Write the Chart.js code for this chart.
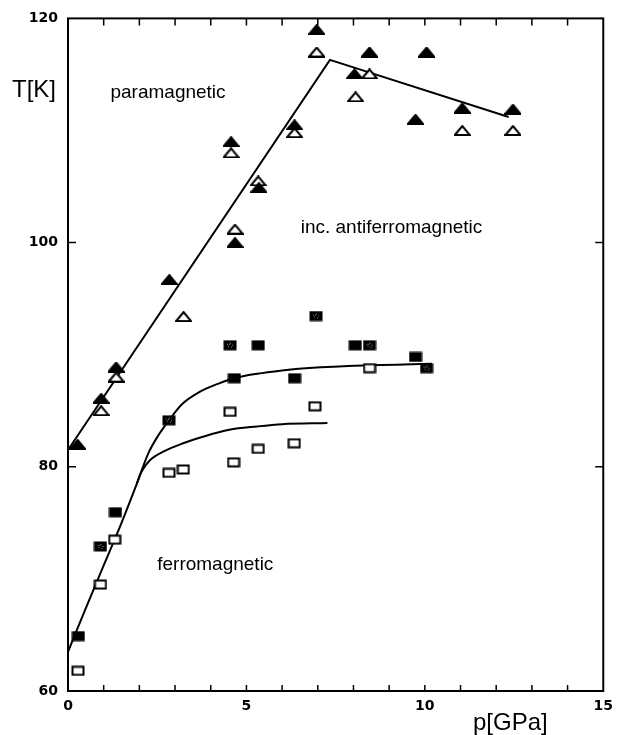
<!DOCTYPE html>
<html>
<head>
<meta charset="utf-8">
<script src="https://cdn.jsdelivr.net/npm/chart.js@4"></script>
<style>
  html, body { margin: 0; padding: 0; background: #fff; }
  #chart { display: block; }
</style>
</head>
<body>
<canvas id="chart" width="620" height="735"></canvas>
<script>
// filled triangles
const triFilledP = [0.27, 0.93, 1.35, 2.84, 4.57, 4.68, 5.35, 6.35, 6.97, 8.03, 8.45, 9.74, 10.05, 11.05, 12.47];
const triFilledT = [82.0, 86.1, 88.9, 96.7, 109.0, 100.0, 104.9, 110.5, 119.0, 115.05, 117.0, 111.0, 117.0, 112.0, 111.9];

// open triangles
const triOpenP = [0.93, 1.35, 3.24, 4.57, 4.68, 5.33, 6.35, 6.97, 8.06, 8.45, 11.05, 12.47];
const triOpenT = [85.0, 88.0, 93.4, 108.0, 101.2, 105.5, 109.8, 117.0, 113.0, 115.05, 110.0, 110.0];

// filled squares
const sqFilledP = [0.29, 1.33, 4.66, 5.33, 6.35, 8.05, 9.74];
const sqFilledT = [64.9, 75.95, 87.9, 90.84, 87.9, 90.84, 89.8];

// grey (speckled) squares
const sqGreyP = [0.91, 2.83, 4.54, 6.95, 8.45, 10.05];
const sqGreyT = [72.9, 84.15, 90.84, 93.45, 90.84, 88.8];

// open squares
const sqOpenP = [0.28, 0.91, 1.31, 2.83, 3.23, 4.54, 4.64, 5.33, 6.34, 6.92, 8.45];
const sqOpenT = [61.8, 69.5, 73.5, 79.46, 79.76, 84.9, 80.4, 81.6, 82.1, 85.4, 88.8];

// phase boundaries
const paraLineP = [0, 7.34, 12.35];
const paraLineT = [81.5, 116.3, 111.2];

const ferroUpperP = [0, 0.5, 1.0, 1.5, 1.93, 2.25, 2.55, 2.83, 3.2, 3.7, 4.2, 4.66, 5.3, 6.0, 6.46, 7.85, 8.45, 9.2, 10.2];
const ferroUpperT = [63.5, 67.4, 71.2, 75.0, 78.5, 81.2, 82.9, 84.15, 85.6, 86.7, 87.4, 87.9, 88.3, 88.6, 88.75, 89.0, 89.05, 89.1, 89.2];

const ferroLowerP = [1.93, 2.05, 2.3, 2.7, 3.23, 3.8, 4.52, 5.3, 6.0, 7.27];
const ferroLowerT = [78.5, 79.5, 80.6, 81.4, 82.1, 82.7, 83.3, 83.6, 83.8, 83.9];

// region labels
const regionText = ['paramagnetic', 'inc. antiferromagnetic', 'ferromagnetic'];
const regionP = [1.19, 6.52, 2.50];
const regionT = [112.94, 100.82, 70.78];

const xTicks = [0, 5, 10, 15];
const yTicks = [60, 80, 100, 120];

function points(px, py) {
    return px.map((p, i) => ({ x: p, y: py[i] }));
}

// marker images
function makeMarker(kind) {
    const c = document.createElement('canvas');
    const tri = kind.startsWith('tri');
    c.width = tri ? 17 : 14;
    c.height = 11;
    const g = c.getContext('2d');
    g.lineWidth = 2;
    g.strokeStyle = '#000';
    if (tri) {
        g.beginPath();
        g.moveTo(1, 10);
        g.lineTo(8.5, 1);
        g.lineTo(16, 10);
        g.closePath();
        g.fillStyle = kind === 'triFilled' ? '#000' : '#fff';
        g.fill();
        g.stroke();
    } else if (kind === 'sqOpen') {
        g.fillStyle = '#fff';
        g.fillRect(1, 1, 12, 9);
        g.strokeRect(1.5, 1.5, 11, 8);
    } else {
        g.fillStyle = '#000';
        g.fillRect(0.5, 0.5, 13, 10);
        if (kind === 'sqGrey') {
            g.fillStyle = '#8a8a8a';
            [[4, 4], [7, 3], [9, 5], [5, 6], [8, 7], [6, 4]].forEach(d => g.fillRect(d[0], d[1], 1, 1));
        }
    }
    return c;
}

function markerSet(label, px, py, kind) {
    return {
        label: label,
        data: points(px, py),
        pointStyle: makeMarker(kind),
        pointRadius: 7,
        showLine: false,
        order: 1
    };
}

function lineSet(label, px, py, smooth) {
    return {
        label: label,
        data: points(px, py),
        showLine: true,
        borderColor: '#000',
        borderWidth: 2,
        pointRadius: 0,
        cubicInterpolationMode: smooth ? 'monotone' : 'default',
        tension: 0,
        order: 2
    };
}

// frame, inward ticks and text
const framePlugin = {
    id: 'frame',
    afterDraw(chart) {
        const ctx = chart.ctx;
        const a = chart.chartArea;
        const xs = chart.scales.x;
        const ys = chart.scales.y;
        ctx.save();
        ctx.strokeStyle = '#000';
        ctx.lineWidth = 2;
        ctx.strokeRect(a.left, a.top, a.right - a.left, a.bottom - a.top);

        ctx.lineWidth = 1.5;
        ctx.beginPath();
        for (let v = xs.min + 1; v < xs.max; v++) {
            const px = xs.getPixelForValue(v);
            ctx.moveTo(px, a.bottom);
            ctx.lineTo(px, a.bottom - 6);
            ctx.moveTo(px, a.top);
            ctx.lineTo(px, a.top + 7);
        }
        yTicks.slice(1, -1).forEach(v => {
            const py = ys.getPixelForValue(v);
            ctx.moveTo(a.left, py);
            ctx.lineTo(a.left + 8, py);
            ctx.moveTo(a.right, py);
            ctx.lineTo(a.right - 8, py);
        });
        ctx.stroke();

        ctx.fillStyle = '#000';
        ctx.textAlign = 'left';
        ctx.textBaseline = 'alphabetic';
        ctx.font = '19px "Liberation Sans", Arial, sans-serif';
        regionText.forEach((t, i) => {
            ctx.fillText(t, xs.getPixelForValue(regionP[i]), ys.getPixelForValue(regionT[i]));
        });

        ctx.font = '24px "Liberation Sans", Arial, sans-serif';
        ctx.fillText('T[K]', a.left - 56, a.top + 79);
        ctx.fillText('p[GPa]', a.left + 405, a.bottom + 39);
        ctx.restore();
    }
};

const tickFont = { family: '"DejaVu Sans", sans-serif', size: 14, weight: 'bold' };

new Chart(document.getElementById('chart'), {
    type: 'scatter',
    data: {
        datasets: [
            markerSet('filled triangles', triFilledP, triFilledT, 'triFilled'),
            markerSet('open triangles', triOpenP, triOpenT, 'triOpen'),
            markerSet('filled squares', sqFilledP, sqFilledT, 'sqFilled'),
            markerSet('grey squares', sqGreyP, sqGreyT, 'sqGrey'),
            markerSet('open squares', sqOpenP, sqOpenT, 'sqOpen'),
            lineSet('paramagnetic boundary', paraLineP, paraLineT, false),
            lineSet('ferro upper', ferroUpperP, ferroUpperT, true),
            lineSet('ferro lower', ferroLowerP, ferroLowerT, true)
        ]
    },
    options: {
        responsive: false,
        animation: false,
        layout: { padding: { top: 18, right: 12, left: 0, bottom: 0 } },
        plugins: {
            legend: { display: false },
            tooltip: { enabled: false }
        },
        scales: {
            x: {
                type: 'linear',
                min: 0,
                max: 15,
                afterBuildTicks: s => { s.ticks = xTicks.map(v => ({ value: v })); },
                ticks: { color: '#000', font: tickFont, padding: 7, maxRotation: 0 },
                grid: { display: false, drawTicks: false },
                border: { display: false },
                afterFit: s => { s.height = 44; }
            },
            y: {
                type: 'linear',
                min: 60,
                max: 120,
                afterBuildTicks: s => { s.ticks = yTicks.map(v => ({ value: v })); },
                ticks: { color: '#000', font: tickFont, padding: 10 },
                grid: { display: false, drawTicks: false },
                border: { display: false },
                afterFit: s => { s.width = 68; }
            }
        }
    },
    plugins: [framePlugin]
});
</script>
</body>
</html>
